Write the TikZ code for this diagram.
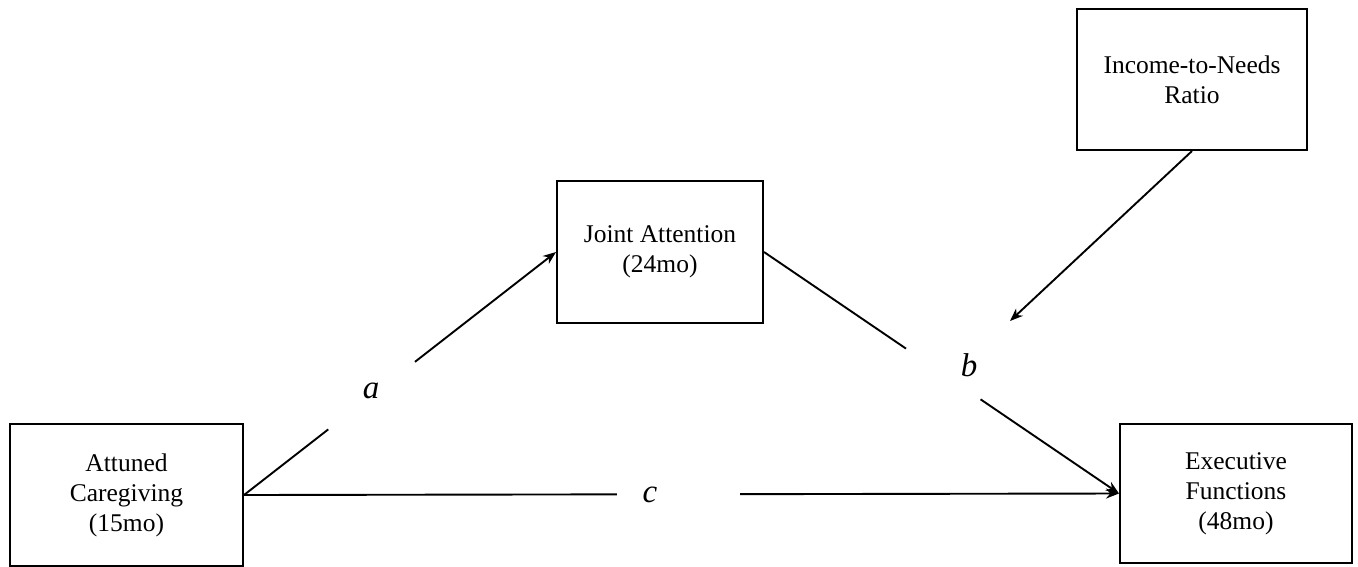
\documentclass[tikz,border=0pt]{standalone}
\usepackage{fontspec}
\setmainfont{Liberation Serif}
\usetikzlibrary{calc,arrows.meta}
\begin{document}
\begin{tikzpicture}[x=1pt,y=-1pt,
  varbox/.style={draw,line width=2pt,align=center,inner sep=0pt,
    font=\fontsize{25.5}{30}\selectfont},
  conn/.style={line width=1.9pt},
  arr/.style={conn,-{Stealth[length=13pt,width=10pt]}},
  pathlbl/.style={font=\fontsize{33}{36}\selectfont\itshape}]
\useasboundingbox (0,0) rectangle (1358,566);
\node[varbox,minimum width=233pt,minimum height=142pt] (att) at (126.5,495) {Attuned\\Caregiving\\(15mo)};
\node[varbox,minimum width=206pt,minimum height=142pt] (joint) at (660,252) {Joint Attention\\(24mo)};
\node[varbox,minimum width=230pt,minimum height=141pt] (inc) at (1192,79.5) {Income-to-Needs\\Ratio};
\node[varbox,minimum width=232pt,minimum height=139pt] (exe) at (1236,493.5) {Executive\\Functions\\(48mo)};
\coordinate (mod) at (1010,321);
% path a
\draw[conn] (att.east) -- ($(att.east)!0.27!(joint.west)$);
\draw[arr] ($(att.east)!0.548!(joint.west)$) -- (joint.west);
\node[pathlbl] (la) at (371,391) {a};
% path b
\draw[conn] (joint.east) -- ($(joint.east)!0.40!(exe.west)$);
\draw[arr] ($(joint.east)!0.61!(exe.west)$) -- (exe.west);
\node[pathlbl] (lb) at (969,365) {b};
% path c
\draw[conn] (att.east) -- ($(att.east)!0.426!(exe.west)$);
\draw[arr] ($(att.east)!0.567!(exe.west)$) -- (exe.west);
\node[pathlbl] (lc) at (650,495) {c};
% moderator
\draw[arr] (inc.south) -- (mod);
\end{tikzpicture}
\end{document}
